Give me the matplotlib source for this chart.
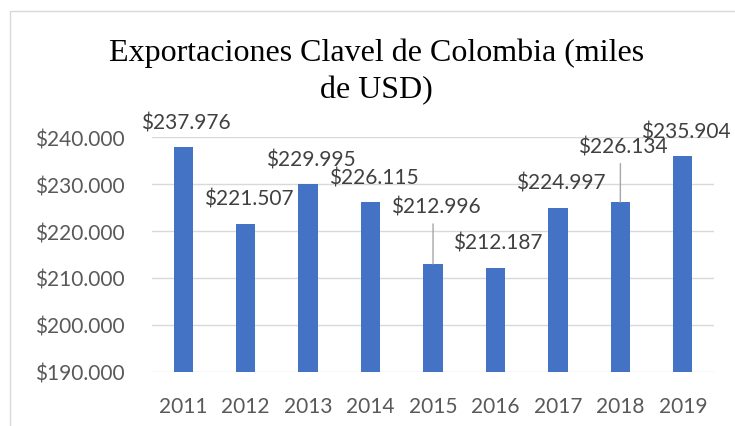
import matplotlib.pyplot as plt
from matplotlib.patches import Rectangle
from matplotlib.ticker import FuncFormatter

# data (miles de USD)
years = ['2011', '2012', '2013', '2014', '2015', '2016', '2017', '2018', '2019']
exports = [237976, 221507, 229995, 226115, 212996, 212187, 224997, 226134, 235904]
# vertical offset of each value label above its bar (points); 2015 and 2018 are pulled up with leader lines
label_offsets = [17, 18, 18, 18, 41, 18, 18, 40, 18]

def money(v):
    return '$' + f'{v:,.0f}'.replace(',', '.')

plt.rcParams['font.family'] = ['Lato', 'DejaVu Sans']

fig = plt.figure(figsize=(7.35, 4.27), dpi=100)
fig.patches.append(Rectangle((10 / 735, -0.1), 1.2, 1 - 12 / 427 + 0.1,
                             transform=fig.transFigure, fill=False,
                             edgecolor='#d9d9d9', linewidth=1))

ax = fig.add_axes([152 / 735, 1 - 373 / 427, 562 / 735, 235 / 427])
x = range(len(years))
ax.bar(x, exports, width=0.31, color='#4472C4', zorder=3)

ax.set_ylim(190000, 240000)
ax.set_xlim(-0.5, len(years) - 0.5)
ax.set_yticks(range(190000, 240001, 10000))
ax.yaxis.set_major_formatter(FuncFormatter(lambda v, p: money(v)))
ax.set_xticks(list(x))
ax.set_xticklabels(years)
ax.grid(axis='y', color='#d9d9d9', linewidth=1, zorder=0)
for s in ax.spines.values():
    s.set_visible(False)
ax.tick_params(length=0, labelsize=15, colors='#595959')
ax.tick_params(axis='x', pad=17)
ax.tick_params(axis='y', pad=20)

for i, v in enumerate(exports):
    off = label_offsets[i]
    if off > 30:
        ax.annotate(money(v), xy=(i, v), xytext=(2, off), textcoords='offset points',
                    ha='center', va='center', fontsize=15, color='#404040',
                    arrowprops=dict(arrowstyle='-', color='#a6a6a6', lw=1,
                                    shrinkA=3, shrinkB=0, relpos=(0.47, 0)))
    else:
        ax.annotate(money(v), xy=(i, v), xytext=(2, off), textcoords='offset points',
                    ha='center', va='center', fontsize=15, color='#404040')

fig.text(0.512, 1 - 72 / 427, 'Exportaciones Clavel de Colombia (miles\nde USD)',
         ha='center', va='center', fontsize=23, family='Liberation Serif',
         linespacing=1.38, color='black')

fig.savefig('out.png', dpi=100)
